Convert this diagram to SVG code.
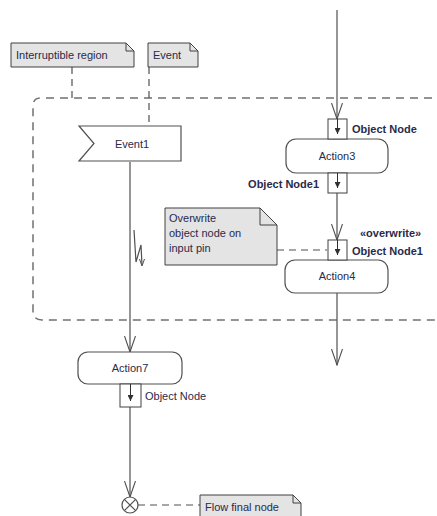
<svg xmlns="http://www.w3.org/2000/svg" width="437" height="516" viewBox="0 0 437 516">
  <style>
    .txt { font-family: "Liberation Sans", Arial, sans-serif; font-size: 11px; fill: #2a2a4a; }
    .bold { font-weight: bold; }
    .node { fill: #ffffff; stroke: #505050; stroke-width: 1.2; }
    .pin { fill: #ffffff; stroke: #404040; stroke-width: 1; }
    .note { fill: #e4e4e4; stroke: #404040; stroke-width: 1; }
    .fold { fill: none; stroke: #404040; stroke-width: 1; }
    .flow { fill: none; stroke: #505050; stroke-width: 1.2; }
    .dash { fill: none; stroke: #505050; stroke-width: 1.2; stroke-dasharray: 7 5; }
    .region { fill: none; stroke: #707070; stroke-width: 1.5; stroke-dasharray: 8 6; }
  </style>
  <defs>
    <!-- open V arrowhead, tip on the line end -->
    <marker id="open" viewBox="0 0 17 12" refX="16" refY="6" markerWidth="17" markerHeight="12" markerUnits="userSpaceOnUse" orient="auto">
      <path d="M0 0.5 L16 6 L0 11.5" fill="none" stroke="#505050" stroke-width="1.1"/>
    </marker>
    <!-- small filled arrow inside pins -->
    <marker id="small" viewBox="0 0 6 6" refX="6" refY="3" markerWidth="6" markerHeight="6" markerUnits="userSpaceOnUse" orient="auto">
      <path d="M0 0 L6 3 L0 6 Z" fill="#303030"/>
    </marker>
  </defs>

  <!-- interruptible region (right side runs past the canvas) -->
  <path id="region" class="region" d="M460 98 L41 98 Q33 98 33 106 L33 311 Q33 320 42 320 L460 320"/>

  <g id="connectors">
    <!-- note anchors -->
    <line class="dash" x1="72" y1="67" x2="72" y2="98"/>
    <line class="dash" x1="149" y1="67" x2="149" y2="126"/>
    <line class="dash" x1="277" y1="250" x2="327" y2="250"/>
    <line class="dash" x1="138" y1="505" x2="200" y2="505"/>
    <!-- flows -->
    <line class="flow" x1="337" y1="10" x2="337" y2="119" marker-end="url(#open)"/>
    <line class="flow" x1="337" y1="193" x2="337" y2="240" marker-end="url(#open)"/>
    <line class="flow" x1="337" y1="293" x2="337" y2="365" marker-end="url(#open)"/>
    <line class="flow" x1="130" y1="162" x2="130" y2="352" marker-end="url(#open)"/>
    <line class="flow" x1="130" y1="407" x2="130" y2="497" marker-end="url(#open)"/>
    <!-- interrupting edge marker -->
    <path class="flow" d="M134 230 L136 262 L141 245 L142 265" stroke-width="1"/>
    <path d="M139.5 259 L142 266 L144.5 259" fill="none" stroke="#505050" stroke-width="1"/>
  </g>

  <!-- notes -->
  <g id="note-region">
    <path class="note" d="M11 43 L126 43 L134 51 L134 67 L11 67 Z"/>
    <path class="fold" d="M126 43 L126 51 L134 51"/>
    <text class="txt" x="16" y="59">Interruptible region</text>
  </g>
  <g id="note-event">
    <path class="note" d="M148 43 L190 43 L198 51 L198 67 L148 67 Z"/>
    <path class="fold" d="M190 43 L190 51 L198 51"/>
    <text class="txt" x="153" y="59">Event</text>
  </g>
  <g id="note-overwrite">
    <path class="note" d="M165 208 L260 208 L277 225 L277 265 L165 265 Z"/>
    <path class="fold" d="M260 208 L260 225 L277 225"/>
    <text class="txt" x="169" y="222">Overwrite</text>
    <text class="txt" x="169" y="237">object node on</text>
    <text class="txt" x="169" y="252">input pin</text>
  </g>
  <g id="note-final">
    <path class="note" d="M200 495 L293 495 L301 503 L301 520 L200 520 Z"/>
    <path class="fold" d="M293 495 L293 503 L301 503"/>
    <text class="txt" x="205" y="511">Flow final node</text>
  </g>

  <!-- actions -->
  <g id="event1">
    <path class="node" d="M79 126 L181 126 L181 161 L79 161 L94 143.5 Z"/>
    <text class="txt" x="132" y="148" text-anchor="middle">Event1</text>
  </g>

  <g id="action3">
    <rect class="node" x="286" y="139" width="102" height="34" rx="10"/>
    <text class="txt" x="337" y="160" text-anchor="middle">Action3</text>
    <rect class="pin" x="328" y="119" width="19" height="20"/>
    <line x1="337.5" y1="119" x2="337.5" y2="134" stroke="#303030" marker-end="url(#small)"/>
    <text class="txt bold" x="352" y="133">Object Node</text>
    <rect class="pin" x="328" y="173" width="19" height="20"/>
    <line x1="337.5" y1="173" x2="337.5" y2="188" stroke="#303030" marker-end="url(#small)"/>
    <text class="txt bold" x="319" y="188" text-anchor="end">Object Node1</text>
  </g>

  <g id="action4">
    <rect class="node" x="285" y="260" width="103" height="33" rx="10"/>
    <text class="txt" x="337" y="280" text-anchor="middle">Action4</text>
    <rect class="pin" x="328" y="240" width="19" height="20"/>
    <line x1="337.5" y1="240" x2="337.5" y2="255" stroke="#303030" marker-end="url(#small)"/>
    <text class="txt bold" x="360" y="237">«overwrite»</text>
    <text class="txt bold" x="352" y="255">Object Node1</text>
  </g>

  <g id="action7">
    <rect class="node" x="78" y="352" width="104" height="32" rx="10"/>
    <text class="txt" x="130" y="372" text-anchor="middle">Action7</text>
    <rect class="pin" x="120" y="384" width="21" height="23"/>
    <line x1="130.5" y1="384" x2="130.5" y2="401" stroke="#303030" marker-end="url(#small)"/>
    <text class="txt" x="145" y="400">Object Node</text>
  </g>

  <g id="flow-final">
    <circle cx="130" cy="505" r="8" fill="#ffffff" stroke="#505050" stroke-width="1.2"/>
    <path d="M124.3 499.3 L135.7 510.7 M135.7 499.3 L124.3 510.7" stroke="#505050" stroke-width="1.2"/>
  </g>
</svg>
